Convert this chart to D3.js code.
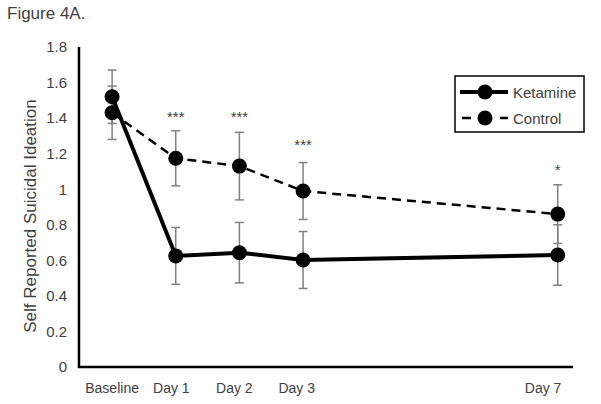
<!DOCTYPE html>
<html>
<head>
<meta charset="utf-8">
<script src="https://cdn.jsdelivr.net/npm/d3@7/dist/d3.min.js"></script>
<style>
  body { margin: 0; background: #fff; }
  text { font-family: "Liberation Sans", Arial, sans-serif; fill: #404040; }
</style>
</head>
<body>
<svg id="chart" width="601" height="404"></svg>
<script>
// data
var days       = [0, 1, 2, 3, 7];
var ketamine   = [1.52, 0.625, 0.643, 0.602, 0.63];
var ketErr     = [0.15, 0.16, 0.17, 0.16, 0.17];
var control    = [1.43, 1.174, 1.13, 0.99, 0.86];
var ctrlErr    = [0.15, 0.155, 0.19, 0.16, 0.165];
var starLabels = ["***", "***", "***", "*"];
var starDays   = [1, 2, 3, 7];
var starY      = [1.43, 1.43, 1.27, 1.13];
var xLabels    = ["Baseline", "Day 1", "Day 2", "Day 3", "Day 7"];
var xLabelPos  = [0, 0.93, 1.92, 2.9, 6.77];
var yTicks     = [0, 0.2, 0.4, 0.6, 0.8, 1, 1.2, 1.4, 1.6, 1.8];

var svg = d3.select("#chart");

var x = d3.scaleLinear().domain([-0.52, 7.24]).range([79, 573]);
var y = d3.scaleLinear().domain([0, 1.8]).range([367, 47]);

svg.append("text")
	.attr("x", 7).attr("y", 19)
	.style("font-size", "17px")
	.text("Figure 4A.");

// y axis: labels only, no ticks
var yAx = svg.append("g")
	.attr("transform", "translate(79,0)")
	.call(d3.axisLeft(y).tickValues(yTicks).tickSize(0).tickPadding(12)
		.tickFormat(function(d){ return d3.format("")(+d.toFixed(1)); }));
yAx.select(".domain").remove();
yAx.selectAll("text").style("font-size", "15px").attr("fill", "#404040")
	.style("font-family", "Liberation Sans, Arial, sans-serif");

svg.append("line")
	.attr("x1", 79).attr("x2", 79).attr("y1", y(1.8)).attr("y2", y(0))
	.attr("stroke", "#000").attr("stroke-width", 2.5);
svg.append("line")
	.attr("x1", 77.75).attr("x2", 573).attr("y1", y(0)).attr("y2", y(0))
	.attr("stroke", "#000").attr("stroke-width", 2.5);

svg.append("g").selectAll("text")
	.data(xLabels)
	.enter().append("text")
	  .attr("x", function(d, i){ return x(xLabelPos[i]); })
	  .attr("y", 393)
	  .attr("text-anchor", "middle")
	  .style("font-size", "14px")
	  .text(function(d){ return d; });

svg.append("text")
	.attr("transform", "translate(36,216) rotate(-90)")
	.attr("text-anchor", "middle")
	.style("font-size", "17px")
	.text("Self Reported Suicidal Ideation");

// error bars
function errorBars(vals, errs){
	var g = svg.append("g").attr("stroke", "#808080").attr("stroke-width", 1.5);
	days.forEach(function(d, i){
		var cx = x(d), lo = y(vals[i] - errs[i]), hi = y(vals[i] + errs[i]);
		g.append("line").attr("x1", cx).attr("x2", cx).attr("y1", lo).attr("y2", hi);
		g.append("line").attr("x1", cx - 4.5).attr("x2", cx + 4.5).attr("y1", lo).attr("y2", lo);
		g.append("line").attr("x1", cx - 4.5).attr("x2", cx + 4.5).attr("y1", hi).attr("y2", hi);
	});
}
errorBars(control, ctrlErr);
errorBars(ketamine, ketErr);

var line = d3.line()
	.x(function(d, i){ return x(days[i]); })
	.y(function(d){ return y(d); });

svg.append("path").datum(control)
	.attr("d", line).attr("fill", "none")
	.attr("stroke", "#000").attr("stroke-width", 2.5)
	.attr("stroke-dasharray", "9,6");
svg.append("path").datum(ketamine)
	.attr("d", line).attr("fill", "none")
	.attr("stroke", "#000").attr("stroke-width", 4);

[control, ketamine].forEach(function(s){
	svg.append("g").selectAll("circle")
		.data(s)
		.enter().append("circle")
		  .attr("cx", function(d, i){ return x(days[i]); })
		  .attr("cy", function(d){ return y(d); })
		  .attr("r", 7.5)
		  .attr("fill", "#000");
});

svg.append("g").selectAll("text")
	.data(starLabels)
	.enter().append("text")
	  .attr("x", function(d, i){ return x(starDays[i]); })
	  .attr("y", function(d, i){ return y(starY[i]) + 9; })
	  .attr("text-anchor", "middle")
	  .style("font-size", "15px")
	  .text(function(d){ return d; });

// legend
var lg = svg.append("g");
lg.append("rect")
	.attr("x", 455).attr("y", 76).attr("width", 129).attr("height", 56)
	.attr("fill", "#fff").attr("stroke", "#000").attr("stroke-width", 1.5);
lg.append("line").attr("x1", 460).attr("x2", 508).attr("y1", 92).attr("y2", 92)
	.attr("stroke", "#000").attr("stroke-width", 4);
lg.append("circle").attr("cx", 485).attr("cy", 92).attr("r", 7.5).attr("fill", "#000");
lg.append("line").attr("x1", 462).attr("x2", 508).attr("y1", 118).attr("y2", 118)
	.attr("stroke", "#000").attr("stroke-width", 2.5).attr("stroke-dasharray", "9,29");
lg.append("circle").attr("cx", 485).attr("cy", 118).attr("r", 7.5).attr("fill", "#000");
lg.append("text").attr("x", 513).attr("y", 97.5).style("font-size", "15px").text("Ketamine");
lg.append("text").attr("x", 513).attr("y", 123.5).style("font-size", "15px").text("Control");
</script>
</body>
</html>
